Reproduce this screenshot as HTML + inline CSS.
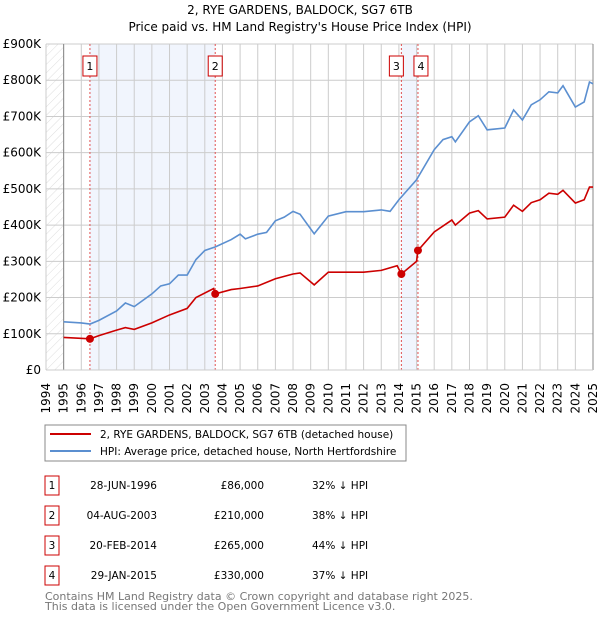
<!DOCTYPE html>
<html><head><meta charset="utf-8"><style>
body{margin:0;background:#fff;font-family:"Liberation Sans","DejaVu Sans",sans-serif;}
svg text{font-family:"DejaVu Sans","Liberation Sans",sans-serif;}
</style></head><body>
<svg id="c" width="600" height="620" xmlns="http://www.w3.org/2000/svg">
<defs><pattern id="hatch" width="6" height="6" patternUnits="userSpaceOnUse" patternTransform="rotate(45)"><line x1="0" y1="0" x2="0" y2="6" stroke="#ddd" stroke-width="1"/></pattern></defs>
<text x="300" y="14" text-anchor="middle" font-size="12">2, RYE GARDENS, BALDOCK, SG7 6TB</text>
<text x="300" y="31" text-anchor="middle" font-size="12">Price paid vs. HM Land Registry's House Price Index (HPI)</text>
<g id="plot"></g>
<rect x="45" y="425" width="361" height="36" fill="#fff" stroke="#888"/>
<line x1="50" y1="434" x2="91" y2="434" stroke="#cc0000" stroke-width="2"/>
<text x="100" y="438" font-size="10.5">2, RYE GARDENS, BALDOCK, SG7 6TB (detached house)</text>
<line x1="50" y1="451" x2="91" y2="451" stroke="#5b8fd0" stroke-width="2"/>
<text x="100" y="455" font-size="10.5">HPI: Average price, detached house, North Hertfordshire</text>
<g id="table" font-size="10.5"></g>
<text x="45" y="600" font-size="11" fill="#777">Contains HM Land Registry data © Crown copyright and database right 2025.</text>
<text x="45" y="610" font-size="11" fill="#777">This data is licensed under the Open Government Licence v3.0.</text>
</svg>
<script>
const hpiYears=[1995,1996,1996.5,1997,1998,1998.5,1999,2000,2000.5,2001,2001.5,2002,2002.5,2003,2003.6,2004.5,2005,2005.3,2006,2006.5,2007,2007.5,2008,2008.4,2009.2,2010,2011,2012,2013,2013.5,2014,2015,2016,2016.5,2017,2017.2,2018,2018.5,2019,2020,2020.5,2021,2021.5,2022,2022.5,2023,2023.3,2023.5,2024,2024.5,2024.8,2025];
const hpiValues=[133,130,127,137,163,185,175,210,232,238,262,262,305,330,340,360,375,362,375,380,412,422,438,430,376,425,437,437,442,438,470,525,608,636,644,630,685,702,663,668,718,690,732,746,768,765,785,768,726,740,795,790];
const ppYears=[1995,1996.49,1997,1998,1998.5,1999,2000,2001,2002,2002.5,2003.5,2003.59,2004.5,2005,2006,2007,2008,2008.4,2009.2,2010,2011,2012,2013,2013.9,2014.14,2015.0,2015.08,2016,2017,2017.2,2018,2018.5,2019,2020,2020.5,2021,2021.5,2022,2022.5,2023,2023.3,2024,2024.5,2024.8,2025];
const ppValues=[90,86,95,110,117,112,130,152,170,200,225,210,222,225,232,252,265,268,235,270,270,270,275,288,265,300,330,381,414,400,433,440,417,422,455,438,462,470,488,485,496,461,470,505,505];
const saleYears=[1996.49,2003.59,2014.14,2015.08];
const salePrices=[86,210,265,330];
const saleLabels=["1","2","3","4"];
const saleDates=["28-JUN-1996","04-AUG-2003","20-FEB-2014","29-JAN-2015"];
const salePriceText=["£86,000","£210,000","£265,000","£330,000"];
const saleHpiText=["32% ↓ HPI","38% ↓ HPI","44% ↓ HPI","37% ↓ HPI"];
const yTicks=[0,100,200,300,400,500,600,700,800,900];
const yTickLabels=["£0","£100K","£200K","£300K","£400K","£500K","£600K","£700K","£800K","£900K"];
const xTicks=[1994,1995,1996,1997,1998,1999,2000,2001,2002,2003,2004,2005,2006,2007,2008,2009,2010,2011,2012,2013,2014,2015,2016,2017,2018,2019,2020,2021,2022,2023,2024,2025];

const X0=46,X1=593,Y0=370,Y1=44;
const xs=y=>X0+(y-1994)/(2025-1994)*(X1-X0);
const ys=v=>Y0-v/900*(Y0-Y1);
const NS="http://www.w3.org/2000/svg";
const g=document.getElementById('plot');
function mk(tag,attrs,parent){const e=document.createElementNS(NS,tag);for(const k in attrs)e.setAttribute(k,attrs[k]);(parent||g).appendChild(e);return e;}

let e=mk('rect',{x:X0,y:Y1,width:xs(1995)-X0,height:Y0-Y1,fill:'url(#hatch)'});


for(let i=0;i<2;i++){
  e=mk('rect',{x:xs(saleYears[i*2]),y:Y1,width:xs(saleYears[i*2+1])-xs(saleYears[i*2]),height:Y0-Y1,fill:'#eef3fc',opacity:0.8});
  
  
}
yTicks.forEach((t,i)=>{
  e=mk('line',{x1:X0,x2:X1,y1:ys(t),y2:ys(t),stroke:'#ccc'});
  
  
  e=mk('text',{x:41,y:ys(t)+4,'text-anchor':'end','font-size':12});
  e.textContent=yTickLabels[i];
  
  
});
xTicks.forEach(t=>{
  e=mk('line',{x1:xs(t),x2:xs(t),y1:Y1,y2:Y0,stroke:'#ccc'});
  
  
  e=mk('text',{x:0,y:0,'text-anchor':'end','font-size':12,transform:`translate(${xs(t)+4},383) rotate(-90)`});
  e.textContent=t;
  
  
});
e=mk('line',{x1:xs(1995),x2:xs(1995),y1:Y1,y2:Y0,stroke:'#888'});


e=mk('line',{x1:X1,x2:X1,y1:Y1,y2:Y0,stroke:'#888'});


saleYears.forEach((y,i)=>{
  e=mk('line',{x1:xs(y),x2:xs(y),y1:Y1,y2:Y0,stroke:'#e05050','stroke-dasharray':'2,2'});
  
  
  let bx=xs(y)-7-(i==2?5:0)+(i==3?3:0);
  e=mk('rect',{x:bx,y:56,width:14,height:20,fill:'#fff',stroke:'#cc0000'});
  
  
  e=mk('text',{x:bx+7,y:70,'text-anchor':'middle','font-size':11});
  e.textContent=saleLabels[i];
  
  
});
e=mk('polyline',{points:hpiYears.map((y,i)=>xs(y)+','+ys(hpiValues[i])).join(' '),fill:'none',stroke:'#5b8fd0','stroke-width':1.6});


e=mk('polyline',{points:ppYears.map((y,i)=>xs(y)+','+ys(ppValues[i])).join(' '),fill:'none',stroke:'#cc0000','stroke-width':1.6});


saleYears.forEach((y,i)=>{
  e=mk('circle',{cx:xs(y),cy:ys(salePrices[i]),r:4,fill:'#cc0000'});
  
  
});
e=mk('line',{x1:X0,x2:X1,y1:Y0,y2:Y0,stroke:'#ccc'});



const tb=document.getElementById('table');
saleLabels.forEach((l,i)=>{
  const ty=476+i*30;
  e=mk('rect',{x:45,y:ty,width:14,height:19,fill:'#fff',stroke:'#cc0000'},tb);
  
  
  e=mk('text',{x:52,y:ty+13,'text-anchor':'middle'},tb);e.textContent=l;
  
  
  e=mk('text',{x:157,y:ty+13,'text-anchor':'end'},tb);e.textContent=saleDates[i];
  
  
  e=mk('text',{x:264,y:ty+13,'text-anchor':'end'},tb);e.textContent=salePriceText[i];
  
  
  e=mk('text',{x:312,y:ty+13},tb);e.textContent=saleHpiText[i];
  
  
});
</script>
</body></html>
